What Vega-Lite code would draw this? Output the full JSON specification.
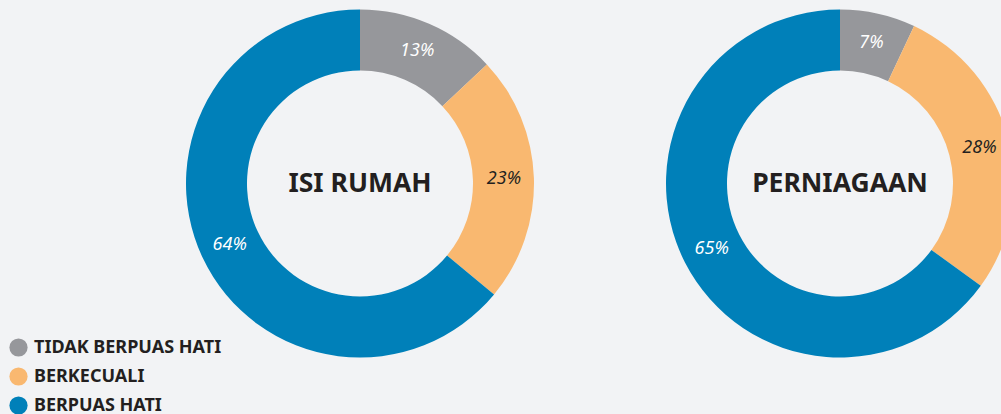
{
  "$schema": "https://vega.github.io/schema/vega-lite/v6.json",
  "background": "#f2f3f5",
  "padding": 0,
  "spacing": 0,
  "bounds": "flush",
  "datasets": {
    "d": [
      {"chart": "ISI RUMAH", "category": "TIDAK BERPUAS HATI", "value": 13, "order": 1, "label": "13%"},
      {"chart": "ISI RUMAH", "category": "BERKECUALI", "value": 23, "order": 2, "label": "23%"},
      {"chart": "ISI RUMAH", "category": "BERPUAS HATI", "value": 64, "order": 3, "label": "64%"},
      {"chart": "PERNIAGAAN", "category": "TIDAK BERPUAS HATI", "value": 7, "order": 1, "label": "7%"},
      {"chart": "PERNIAGAAN", "category": "BERKECUALI", "value": 28, "order": 2, "label": "28%"},
      {"chart": "PERNIAGAAN", "category": "BERPUAS HATI", "value": 65, "order": 3, "label": "65%"}
    ],
    "titles": [
      {"chart": "ISI RUMAH"},
      {"chart": "PERNIAGAAN"}
    ]
  },
  "hconcat": [
    {
      "width": 720,
      "height": 367,
      "layer": [
        {
          "data": {"name": "d"},
          "transform": [{"filter": "datum.chart === 'ISI RUMAH'"}],
          "mark": {"type": "arc", "outerRadius": 174, "innerRadius": 113, "stroke": null},
          "encoding": {
            "theta": {"field": "value", "type": "quantitative", "stack": true},
            "order": {"field": "order", "type": "quantitative"},
            "color": {"field": "category", "type": "nominal",
              "scale": {"domain": ["TIDAK BERPUAS HATI", "BERKECUALI", "BERPUAS HATI"], "range": ["#96979b", "#f9b870", "#0080b9"]},
              "legend": {"title": null}
            }
          }
        },
        {
          "data": {"name": "d"},
          "transform": [{"filter": "datum.chart === 'ISI RUMAH'"}],
          "mark": {"type": "text", "radius": 144, "font": "Noto Sans", "fontSize": 18, "fontStyle": "italic"},
          "encoding": {
            "theta": {"field": "value", "type": "quantitative", "stack": true},
            "order": {"field": "order", "type": "quantitative"},
            "text": {"field": "label"},
            "color": {"condition": {"test": "datum.category === 'BERKECUALI'", "value": "#231f20"}, "value": "#ffffff"}
          }
        },
        {
          "data": {"name": "titles"},
          "transform": [{"filter": "datum.chart === 'ISI RUMAH'"}],
          "mark": {"type": "text", "font": "Noto Sans", "fontSize": 26.5, "fontWeight": "bold", "color": "#231f20"},
          "encoding": {"text": {"field": "chart"}}
        }
      ]
    },
    {
      "width": 240,
      "height": 367,
      "layer": [
        {
          "data": {"name": "d"},
          "transform": [{"filter": "datum.chart === 'PERNIAGAAN'"}],
          "mark": {"type": "arc", "outerRadius": 174, "innerRadius": 113, "stroke": null},
          "encoding": {
            "theta": {"field": "value", "type": "quantitative", "stack": true},
            "order": {"field": "order", "type": "quantitative"},
            "color": {"field": "category", "type": "nominal",
              "scale": {"domain": ["TIDAK BERPUAS HATI", "BERKECUALI", "BERPUAS HATI"], "range": ["#96979b", "#f9b870", "#0080b9"]},
              "legend": {"title": null}
            }
          }
        },
        {
          "data": {"name": "d"},
          "transform": [{"filter": "datum.chart === 'PERNIAGAAN'"}],
          "mark": {"type": "text", "radius": 144, "font": "Noto Sans", "fontSize": 18, "fontStyle": "italic"},
          "encoding": {
            "theta": {"field": "value", "type": "quantitative", "stack": true},
            "order": {"field": "order", "type": "quantitative"},
            "text": {"field": "label"},
            "color": {"condition": {"test": "datum.category === 'BERKECUALI'", "value": "#231f20"}, "value": "#ffffff"}
          }
        },
        {
          "data": {"name": "titles"},
          "transform": [{"filter": "datum.chart === 'PERNIAGAAN'"}],
          "mark": {"type": "text", "font": "Noto Sans", "fontSize": 26.5, "fontWeight": "bold", "color": "#231f20"},
          "encoding": {"text": {"field": "chart"}}
        }
      ]
    }
  ],
  "config": {
    "view": {"stroke": null},
    "legend": {
      "orient": "none",
      "legendX": 9,
      "legendY": 338,
      "padding": 0,
      "symbolType": "circle",
      "symbolSize": 330,
      "symbolStrokeWidth": 0,
      "labelFont": "Noto Sans",
      "labelFontSize": 18,
      "labelFontWeight": "bold",
      "labelColor": "#231f20",
      "labelOffset": 6,
      "rowPadding": 10,
      "labelLimit": 400
    }
  }
}
